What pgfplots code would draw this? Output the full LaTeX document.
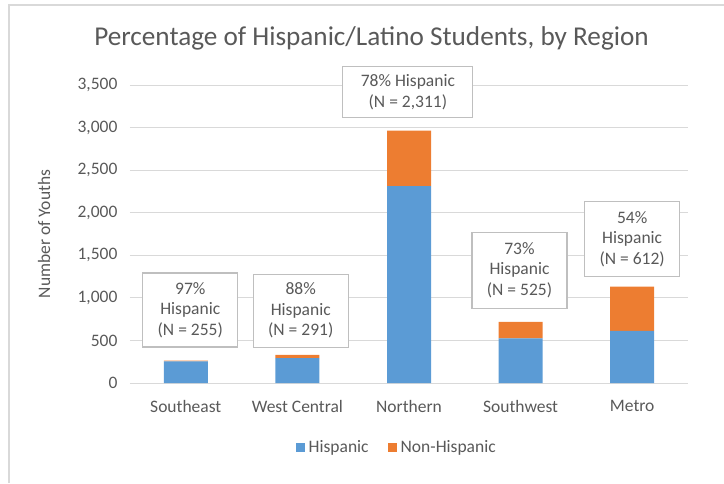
\documentclass[border=0pt]{standalone}
\usepackage{pgfplots}
\pgfplotsset{compat=1.18}
\usepackage{fontspec}
\setmainfont{Carlito}
\definecolor{hisp}{HTML}{5B9BD5}
\definecolor{nonhisp}{HTML}{ED7D31}
\definecolor{txt}{HTML}{595959}
\definecolor{gridc}{HTML}{D9D9D9}
\definecolor{boxc}{HTML}{BFBFBF}
\tikzset{lbl/.style={draw=boxc, line width=1.2pt, fill=white, text=txt, align=center,
  font=\fontsize{17.5}{20.5}\selectfont, inner sep=0pt}}
\begin{document}
\begin{tikzpicture}
\path[use as bounding box] (0pt,0pt) rectangle (724pt,483pt);
\draw[gridc, line width=1.6pt] (9pt,0pt) -- (9pt,478pt) -- (724pt,478pt);
\node[text=txt, font=\fontsize{27.2}{32}\selectfont] at (371.5pt,445pt) {Percentage of Hispanic/Latino Students, by Region};
\begin{axis}[
  at={(130pt,100pt)}, anchor=south west,
  scale only axis, width=558pt, height=298pt,
  clip=false,
  ybar stacked, bar width=44pt,
  xmin=-0.5, xmax=4.5, ymin=0, ymax=3500,
  xtick=data, xticklabels={Southeast,West Central,Northern,Southwest,Metro},
  ytick={0,500,1000,1500,2000,2500,3000,3500},
  yticklabels={0,500,{1,000},{1,500},{2,000},{2,500},{3,000},{3,500}},
  ymajorgrids, grid style={gridc, line width=1pt},
  axis x line*=bottom, axis y line*=left,
  x axis line style={draw=gridc, line width=1pt, -},
  y axis line style={draw=none},
  major tick length=0pt,
  tick label style={text=txt, font=\fontsize{17.5}{21}\selectfont},
  yticklabel style={xshift=-9pt},
  xticklabel style={yshift=-14pt},
  ylabel={Number of Youths},
  ylabel style={text=txt, font=\fontsize{17.5}{21}\selectfont, at={(-0.154,0.5)}, anchor=center},
  legend style={at={(0.478,-0.215)}, anchor=center, draw=none, legend columns=2,
    font=\fontsize{17.5}{21}\selectfont, text=txt,
    /tikz/every odd column/.append style={column sep=2pt},
    /tikz/every even column/.append style={column sep=17pt}},
  legend image code/.code={\fill[#1] (0pt,-4.5pt) rectangle (9pt,4.5pt);},
]
\addplot[fill=hisp, draw=none] coordinates {(0,255) (1,291) (2,2311) (3,525) (4,612)};
\addplot[fill=nonhisp, draw=none] coordinates {(0,8) (1,40) (2,652) (3,194) (4,521)};
\legend{Hispanic,Non-Hispanic}
\node[lbl, minimum width=95pt, minimum height=74pt] at (axis cs:0.04,857) {97\%\\Hispanic\\(N = 255)};
\node[lbl, minimum width=95pt, minimum height=73pt] at (axis cs:1.03,850) {88\%\\Hispanic\\(N = 291)};
\node[lbl, minimum width=130pt, minimum height=51pt] at (axis cs:1.99,3415) {78\% Hispanic\\(N = 2,311)};
\node[lbl, minimum width=95pt, minimum height=76pt] at (axis cs:2.99,1325) {73\%\\Hispanic\\(N = 525)};
\node[lbl, minimum width=95pt, minimum height=75pt] at (axis cs:4.0,1690) {54\%\\Hispanic\\(N = 612)};
\end{axis}
\end{tikzpicture}
\end{document}
